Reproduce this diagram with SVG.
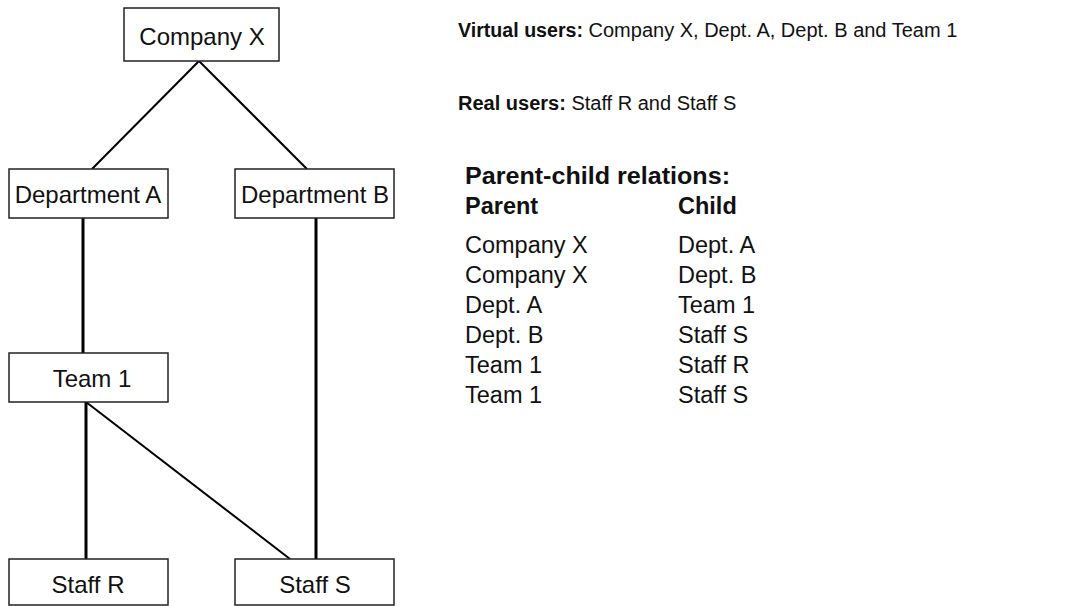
<svg xmlns="http://www.w3.org/2000/svg" width="1091" height="606" viewBox="0 0 1091 606">
<style>
.box{fill:#fff;stroke:#222;stroke-width:1.5}
.lbl{font-family:"Liberation Sans",Arial,sans-serif;font-size:24px;fill:#111;text-anchor:middle}
.t{font-family:"Liberation Sans",Arial,sans-serif;font-size:20px;fill:#111}
.r{font-family:"Liberation Sans",Arial,sans-serif;font-size:23.5px;fill:#111}
.b{font-weight:bold}
.v{stroke:#000;stroke-width:3;fill:none}
.d{stroke:#000;stroke-width:2;fill:none}
</style>
<rect width="1091" height="606" fill="#fff"/>
<g id="connectors">
<line class="d" x1="199" y1="61" x2="92" y2="169"/>
<line class="d" x1="199" y1="61" x2="307" y2="169"/>
<line class="v" x1="83" y1="218" x2="83" y2="353"/>
<line class="v" x1="316" y1="218" x2="316" y2="559"/>
<line class="v" x1="86" y1="402" x2="86" y2="559"/>
<line class="d" x1="86" y1="402" x2="290" y2="559"/>
</g>
<g id="company-x"><rect class="box" x="124" y="8" width="155" height="53"/><text class="lbl" x="202" y="45">Company X</text></g>
<g id="dept-a"><rect class="box" x="9" y="169" width="159" height="49"/><text class="lbl" x="88" y="203">Department A</text></g>
<g id="dept-b"><rect class="box" x="235" y="169" width="159" height="49"/><text class="lbl" x="315" y="203">Department B</text></g>
<g id="team-1"><rect class="box" x="9" y="353" width="159" height="49"/><text class="lbl" x="92" y="387">Team 1</text></g>
<g id="staff-r"><rect class="box" x="9" y="559" width="159" height="46"/><text class="lbl" x="88" y="593">Staff R</text></g>
<g id="staff-s"><rect class="box" x="235" y="559" width="159" height="46"/><text class="lbl" x="315" y="593">Staff S</text></g>
<g id="legend">
<text class="t" x="458" y="37"><tspan class="b" textLength="125" lengthAdjust="spacingAndGlyphs">Virtual users:</tspan> Company X, Dept. A, Dept. B and Team 1</text>
<text class="t" x="458" y="110"><tspan class="b">Real users:</tspan> Staff R and Staff S</text>
<text class="r b" x="465" y="184" textLength="265" lengthAdjust="spacingAndGlyphs">Parent-child relations:</text>
<text class="r b" x="465" y="214">Parent</text>
<text class="r b" x="678" y="214">Child</text>
<text class="r" x="465" y="253">Company X</text><text class="r" x="678" y="253">Dept. A</text>
<text class="r" x="465" y="283">Company X</text><text class="r" x="678" y="283">Dept. B</text>
<text class="r" x="465" y="313">Dept. A</text><text class="r" x="678" y="313">Team 1</text>
<text class="r" x="465" y="343">Dept. B</text><text class="r" x="678" y="343">Staff S</text>
<text class="r" x="465" y="373">Team 1</text><text class="r" x="678" y="373">Staff R</text>
<text class="r" x="465" y="403">Team 1</text><text class="r" x="678" y="403">Staff S</text>
</g>
</svg>
